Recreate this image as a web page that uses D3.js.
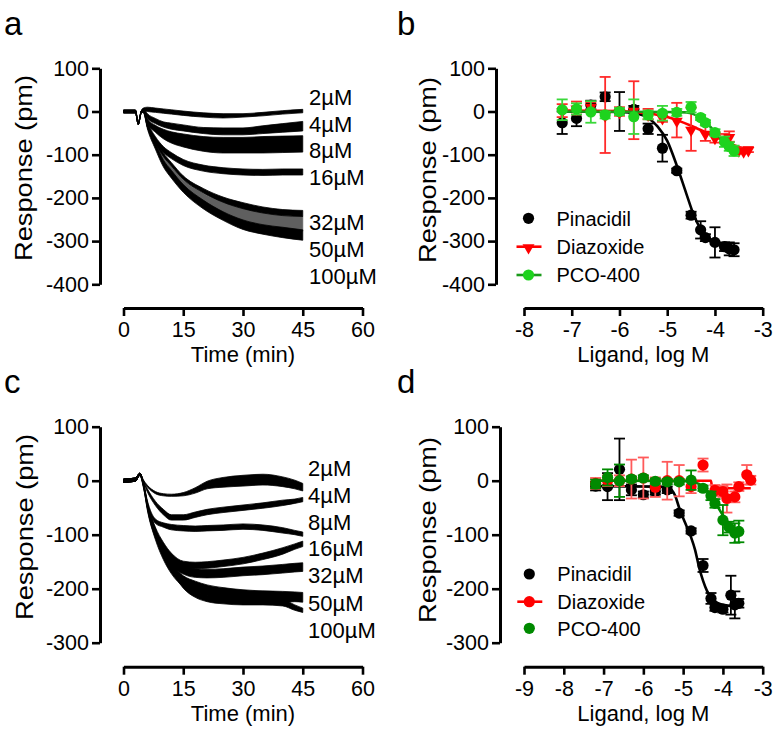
<!DOCTYPE html>
<html><head><meta charset="utf-8">
<script src="https://cdn.jsdelivr.net/npm/d3@7"></script>
<style>
body{margin:0;background:#fff}
text{font-family:"Liberation Sans",Arial,sans-serif;fill:#000}
</style>
</head><body>
<svg id="chart" width="778" height="738"></svg>
<script>
// ---------- Panel a : time courses ----------
const timeA = [0, 3, 3.7, 4.5, 5, 6, 8, 10, 12, 15, 20, 25, 30, 35, 40, 45];
const concLabels = ["2µM","4µM","8µM","16µM","32µM","50µM","100µM"];
const a2   = [0,0,-28,0,5,5,3,1,-1,-4,-8,-10,-9,-6,-2,1];
const a2w  = [3,3,2,2,3,5,5,5,5,5,5,5,4,4,4,4];
const a4   = [0,0,-28,0,4,-10,-22,-30,-34,-38,-44,-46,-46,-42,-38,-34];
const a4w  = [3,3,2,2,3,5,6,6,7,7,7,8,8,9,10,11];
const a8   = [0,0,-28,0,3,-22,-40,-52,-60,-67,-75,-78,-78,-77,-76,-75];
const a8w  = [3,3,2,2,3,6,8,11,13,15,17,18,18,19,19,19];
const a16  = [0,0,-28,0,2,-30,-65,-88,-102,-118,-131,-137,-140,-141,-140,-140];
const a16w = [3,3,2,2,3,6,7,7,7,7,7,7,7,7,7,7];
const a32  = [0,0,-28,0,1,-32,-70,-100,-122,-153,-183,-204,-218,-228,-234,-236];
const a32w = [3,3,2,2,3,4,4,4,4,4,5,6,7,7,7,7];
const a50  = [0,0,-28,0,0,-33,-75,-110,-134,-166,-200,-223,-240,-251,-257,-260];
const a50w = [2,2,2,2,2,2,4,6,7,8,11,13,15,16,16,17];
const a100 = [0,0,-28,0,0,-35,-80,-120,-145,-178,-215,-242,-262,-273,-280,-286];
const a100w= [3,3,2,2,3,5,7,8,9,9,10,10,11,11,12,12];
const aLabelY = [34,-29,-89,-152,-255,-319,-382];   // label centre values

// ---------- Panel c : time courses ----------
const timeC = [0, 3, 4.1, 5, 6, 8, 10, 12, 15, 18, 21, 25, 30, 35, 40, 43, 45];
const c2   = [0,2,12,0,-10,-22,-26,-27,-25,-18,-8,-3,0,2,-2,-7,-12];
const c2w  = [3,3,2,1.5,1.5,2,2,2,3,5,7,9,10,10,9,8,7];
const c4   = [0,2,12,-2,-18,-42,-58,-68,-68,-63,-58,-54,-50,-46,-41,-38,-35];
const c4w  = [3,3,2,2,3,4,5,5,5,5,5,5,5,5,5,4,4];
const c8   = [0,2,12,-5,-40,-75,-82,-86,-88,-89,-88,-87,-85,-87,-92,-96,-99];
const c8w  = [3,3,2,2,3,4,4,5,5,5,5,5,5,5,5,4,4];
const c16  = [0,2,12,-6,-45,-92,-120,-140,-155,-157,-156,-153,-148,-140,-130,-122,-117];
const c16w = [3,3,2,3,4,6,6,6,6,6,6,6,6,6,6,5,5];
const c32  = [0,2,12,-7,-48,-98,-128,-150,-165,-171,-172,-171,-168,-166,-163,-161,-160];
const c32w = [3,3,2,3,5,7,8,8,8,8,8,8,8,8,8,8,8];
const c50  = [0,2,12,-8,-50,-102,-138,-163,-186,-196,-203,-208,-212,-214,-215,-215,-216];
const c50w = [3,3,2,3,5,7,8,9,10,10,10,10,10,10,10,9,9];
const c100 = [0,2,12,-10,-45,-95,-130,-158,-192,-210,-218,-222,-224,-224,-226,-235,-240];
const c100w= [3,3,2,3,5,6,7,7,7,6,6,6,6,6,6,5,4];
const cLabelY = [23,-27,-76,-125,-175,-226,-276];

// ---------- Panel b : concentration-response ----------
const bPinX = [-7.2,-6.9,-6.6,-6.3,-6.0,-5.7,-5.4,-5.1,-4.8,-4.5,-4.3,-4.2,-4.0,-3.8,-3.7,-3.6];
const bPinY = [-26,-16,15,34,0,5,-40,-85,-137,-240,-274,-292,-303,-313,-318,-320];
const bPinE = [26,18,10,10,45,8,12,31,5,8,20,8,35,10,15,15];
const bDiaX = [-7.2,-6.9,-6.6,-6.3,-6.0,-5.7,-5.4,-5.1,-4.8,-4.5,-4.2,-4.0,-3.8,-3.7,-3.5,-3.4,-3.3];
const bDiaY = [2,8,12,-8,0,3,-6,-14,-20,-41,-50,-60,-62,-58,-89,-91,-88];
const bDiaE = [15,15,10,88,10,67,12,10,40,50,18,12,10,12,6,6,6];
const bPcoX = [-7.2,-6.9,-6.6,-6.3,-6.0,-5.7,-5.4,-5.1,-4.8,-4.5,-4.3,-4.2,-4.0,-3.8,-3.7,-3.6];
const bPcoY = [4,6,-1,-8,0,-12,-8,-4,-2,10,-14,-26,-49,-70,-81,-91];
const bPcoE = [24,13,25,8,8,40,10,17,8,12,6,6,8,12,10,12];
// fitted curves
const bPinFitX = [-7.2,-6.0,-5.6,-5.4,-5.2,-5.0,-4.8,-4.6,-4.45,-4.3,-4.1,-3.9,-3.6];
const bPinFitY = [0,-1,-6,-15,-35,-68,-125,-190,-238,-272,-295,-308,-316];
const bDiaFitX = [-7.2,-6.0,-5.6,-5.3,-5.0,-4.8,-4.5,-4.2,-4.0,-3.8,-3.6,-3.4,-3.27];
const bDiaFitY = [2,1,-2,-6,-13,-20,-33,-48,-58,-68,-78,-86,-90];
const bPcoFitX = [-7.2,-5.0,-4.6,-4.45,-4.3,-4.1,-3.9,-3.75,-3.6];
const bPcoFitY = [0,-1,-2,-6,-15,-35,-60,-78,-92];

// ---------- Panel d : concentration-response ----------
const dPinX = [-7.2,-6.9,-6.6,-6.3,-6.0,-5.7,-5.4,-5.1,-4.8,-4.5,-4.3,-4.2,-4.0,-3.8,-3.7,-3.6];
const dPinY = [-10,-11,21,-17,-26,-20,-17,-60,-93,-157,-218,-235,-238,-212,-230,-227];
const dPinE = [8,25,57,10,6,6,6,5,5,12,10,6,6,36,25,8];
const dDiaX = [-7.2,-6.9,-6.6,-6.3,-6.0,-5.7,-5.4,-5.1,-4.8,-4.5,-4.2,-4.0,-3.9,-3.7,-3.6,-3.4,-3.3];
const dDiaY = [-5,0,0,3,5,-12,0,0,-11,29,-18,-20,-33,-30,-11,11,1];
const dDiaE = [10,10,10,36,38,18,35,29,12,12,10,10,26,10,8,18,8];
const dPcoX = [-7.2,-6.9,-6.6,-6.3,-6.0,-5.7,-5.4,-5.1,-4.8,-4.5,-4.3,-4.2,-4.0,-3.85,-3.7,-3.6];
const dPcoY = [-6,6,0,3,5,-1,-2,-2,1,-14,-28,-42,-73,-86,-97,-94];
const dPcoE = [8,15,30,5,5,5,5,5,18,5,8,8,28,10,18,20];
const dPinFitX = [-7.2,-5.6,-5.35,-5.2,-5.1,-4.95,-4.8,-4.7,-4.6,-4.5,-4.4,-4.25,-4.0,-3.57];
const dPinFitY = [-10,-11,-14,-28,-50,-78,-105,-128,-160,-185,-204,-220,-230,-233];
const dDiaFitX = [-7.2,-4.3,-4.27,-3.3];
const dDiaFitY = [0,0,-14,-14];
const dPcoFitX = [-7.2,-4.9,-4.6,-4.4,-4.2,-4.0,-3.8,-3.6];
const dPcoFitY = [0,-1,-6,-18,-40,-64,-83,-96];

const legendNames = ["Pinacidil","Diazoxide","PCO-400"];
const xTicksTime = [0,15,30,45,60];
const yTicksAB = [100,0,-100,-200,-300,-400];
const yTicksCD = [100,0,-100,-200,-300];
const xTicksB = [-8,-7,-6,-5,-4,-3];
const xTicksD = [-9,-8,-7,-6,-5,-4,-3];

// ---------- drawing ----------
const svg = d3.select("#chart");
const FONT_TICK = 21.5;

const xa = d3.scaleLinear().domain([0,60]).range([123.5,362.5]);
const ya = d3.scaleLinear().domain([-400,100]).range([284.3,68.3]);
const xb = d3.scaleLinear().domain([-8,-3]).range([524,762.7]);
const yb = ya;
const xc = d3.scaleLinear().domain([0,60]).range([123.5,362.5]);
const yc = d3.scaleLinear().domain([-300,100]).range([642.7,426.7]);
const xd = d3.scaleLinear().domain([-9,-3]).range([524,762.7]);
const yd = yc;

function styleAxis(g){
  g.select(".domain").attr("stroke","#000").attr("stroke-width",3);
  g.selectAll(".tick line").attr("stroke","#000").attr("stroke-width",2.6);
  g.selectAll(".tick text").style("font-size",FONT_TICK+"px").attr("fill","#000")
   .style("font-family",'"Liberation Sans",Arial,sans-serif');
}
function drawAxes(x, y, xTicks, yTicks, xAxisY, yAxisX, xTitle, yTitleX, yTitleY, titleY){
  const gy = svg.append("g").attr("transform",`translate(${yAxisX},0)`)
    .call(d3.axisLeft(y).tickValues(yTicks).tickFormat(d=>String(d)).tickSize(8).tickSizeOuter(0).tickPadding(3));
  styleAxis(gy);
  const gx = svg.append("g").attr("transform",`translate(0,${xAxisY})`)
    .call(d3.axisBottom(x).tickValues(xTicks).tickFormat(d=>String(d)).tickSize(8).tickSizeOuter(0).tickPadding(6));
  styleAxis(gx);
  svg.append("text").attr("x",(x.range()[0]+x.range()[1])/2).attr("y",titleY)
    .attr("text-anchor","middle").style("font-size","22px").text(xTitle);
  svg.append("text").attr("transform",`translate(${yTitleX},${yTitleY}) rotate(-90)`)
    .attr("text-anchor","middle").style("font-size","24px")
    .attr("textLength",186).attr("lengthAdjust","spacingAndGlyphs").text("Response (pm)");
}

function drawTraces(x, y, time, traces, labelYs, labelX){
  const area = d3.area().curve(d3.curveMonotoneX)
    .x((d,i)=>x(time[i])).y0(d=>y(d[0]-d[1])).y1(d=>y(d[0]+d[1]));
  traces.forEach(tr=>{
    const pts = tr.v.map((v,i)=>[v,tr.w[i]]);
    svg.append("path").attr("d",area(pts)).attr("fill",tr.fill)
      .attr("stroke",tr.fill).attr("stroke-width",0.8);
  });
  concLabels.forEach((lab,i)=>{
    svg.append("text").attr("x",labelX).attr("y",y(labelYs[i])).attr("dy","0.36em")
      .style("font-size","22px").text(lab);
  });
}

function drawSeries(x, y, xs, ys, es, color, errColor, shape, fitX, fitY, fitColor){
  if (fitX){
    const line = d3.line().curve(d3.curveMonotoneX).x((d,i)=>x(fitX[i])).y(d=>y(d));
    svg.append("path").attr("d",line(fitY)).attr("fill","none")
      .attr("stroke",fitColor).attr("stroke-width",2.6);
  }
  const g = svg.append("g");
  xs.forEach((xv,i)=>{
    const cx = x(xv), top = y(ys[i]+es[i]), bot = y(ys[i]-es[i]);
    g.append("line").attr("x1",cx).attr("x2",cx).attr("y1",top).attr("y2",bot)
      .attr("stroke",errColor).attr("stroke-width",1.8);
    [top,bot].forEach(yy=>g.append("line").attr("x1",cx-5.5).attr("x2",cx+5.5)
      .attr("y1",yy).attr("y2",yy).attr("stroke",errColor).attr("stroke-width",1.8));
  });
  xs.forEach((xv,i)=>marker(g, x(xv), y(ys[i]), shape, color));
}
function marker(g, cx, cy, shape, color){
  if (shape==="tri"){
    g.append("path").attr("d",d3.symbol(d3.symbolTriangle,62)())
      .attr("transform",`translate(${cx},${cy+1}) rotate(180)`).attr("fill",color);
  } else {
    g.append("circle").attr("cx",cx).attr("cy",cy).attr("r",5.6).attr("fill",color);
  }
}
function legend(x0, ys, items){
  items.forEach((it,i)=>{
    const yy = ys[i];
    if (it.line) svg.append("line").attr("x1",x0-12).attr("x2",x0+13).attr("y1",yy).attr("y2",yy)
      .attr("stroke",it.line).attr("stroke-width",2.6);
    marker(svg, x0, yy, it.shape, it.color);
    svg.append("text").attr("x",x0+28).attr("y",yy).attr("dy","0.36em")
      .style("font-size","20px").text(legendNames[i]);
  });
}

// Panel a
drawAxes(xa, ya, xTicksTime, yTicksAB, 308, 100, "Time (min)", 32, 168, 362);
drawTraces(xa, ya, timeA, [
  {v:a50,w:a50w,fill:"#5f5f5f"},
  {v:a2,w:a2w,fill:"#000"},{v:a4,w:a4w,fill:"#000"},{v:a8,w:a8w,fill:"#000"},
  {v:a16,w:a16w,fill:"#000"},{v:a32,w:a32w,fill:"#000"},{v:a100,w:a100w,fill:"#000"}
], aLabelY, 309);

// Panel c
drawAxes(xc, yc, xTicksTime, yTicksCD, 666.7, 100, "Time (min)", 33, 527, 721);
drawTraces(xc, yc, timeC, [
  {v:c2,w:c2w,fill:"#000"},{v:c4,w:c4w,fill:"#000"},{v:c8,w:c8w,fill:"#000"},
  {v:c16,w:c16w,fill:"#000"},{v:c32,w:c32w,fill:"#000"},{v:c50,w:c50w,fill:"#000"},
  {v:c100,w:c100w,fill:"#000"}
], cLabelY, 308);

// Panel b
drawAxes(xb, yb, xTicksB, yTicksAB, 308, 496, "Ligand, log M", 436, 170, 362);
drawSeries(xb, yb, bPinX, bPinY, bPinE, "#000", "#000", "circle", bPinFitX, bPinFitY, "#000");
drawSeries(xb, yb, bDiaX, bDiaY, bDiaE, "#ff0000", "#ff2a2a", "tri", bDiaFitX, bDiaFitY, "#ff0000");
drawSeries(xb, yb, bPcoX, bPcoY, bPcoE, "#1ed31e", "#3ad83a", "circle", bPcoFitX, bPcoFitY, "#1a9a1a");
legend(528.5, [218.3,246.7,275], [
  {shape:"circle",color:"#000"},
  {shape:"tri",color:"#ff0000",line:"#ff0000"},
  {shape:"circle",color:"#1ed31e",line:"#1a9a1a"}
]);

// Panel d
drawAxes(xd, yd, xTicksD, yTicksCD, 666.7, 500, "Ligand, log M", 436, 530, 721);
drawSeries(xd, yd, dPinX, dPinY, dPinE, "#000", "#000", "circle", dPinFitX, dPinFitY, "#000");
drawSeries(xd, yd, dDiaX, dDiaY, dDiaE, "#ff0000", "#ff5a5a", "circle", dDiaFitX, dDiaFitY, "#ff0000");
drawSeries(xd, yd, dPcoX, dPcoY, dPcoE, "#008a00", "#008a00", "circle", dPcoFitX, dPcoFitY, "#008a00");
legend(529.3, [574,601.7,628.3], [
  {shape:"circle",color:"#000"},
  {shape:"circle",color:"#ff0000",line:"#ff0000"},
  {shape:"circle",color:"#008a00"}
]);

// Panel letters
[["a",4,35],["b",397,35],["c",4,393],["d",397,393]].forEach(([t,x,y])=>{
  svg.append("text").attr("x",x).attr("y",y).style("font-size","33px").text(t);
});
</script>
</body></html>
